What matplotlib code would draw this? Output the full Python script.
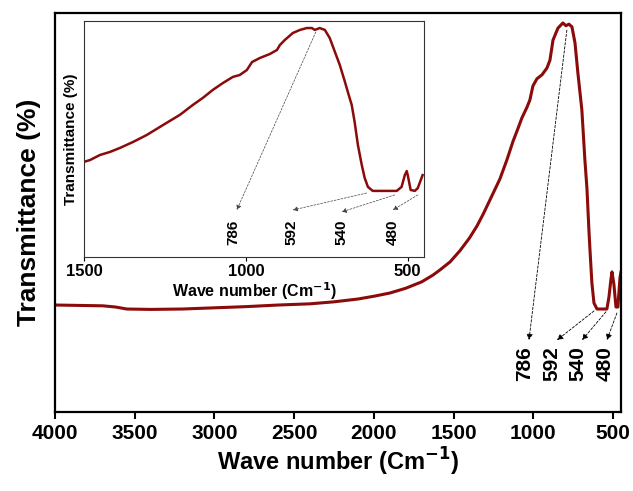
import numpy as np
import matplotlib
matplotlib.use('Agg')
import matplotlib.pyplot as plt

plt.rcParams['font.family'] = ['Liberation Sans', 'DejaVu Sans']
plt.rcParams['font.weight'] = 'bold'
plt.rcParams['mathtext.default'] = 'bf'

# Main FTIR spectrum (arbitrary units)
wn_main = [4000, 3850, 3700, 3620, 3550, 3400, 3200, 3000, 2800, 2600, 2400,
           2250, 2100, 2000, 1900, 1800, 1700, 1629, 1585, 1522, 1460, 1400,
           1353, 1315, 1272, 1209, 1165, 1127, 1100, 1071, 1039, 1021, 1002,
           977, 945, 914, 895, 876, 845, 814, 795, 776, 757, 738, 720, 695,
           676, 663, 650, 644, 632, 619, 600, 538, 525, 513, 506, 494, 481,
           469, 456, 450]
tr_main = [26.8, 26.7, 26.6, 26.3, 25.8, 25.7, 25.8, 26.1, 26.4, 26.8, 27.1,
           27.6, 28.3, 29.0, 29.8, 31.0, 32.6, 34.3, 35.6, 37.6, 40.4, 43.6,
           46.6, 49.5, 53.1, 58.4, 63.2, 67.8, 70.6, 73.7, 76.4, 78.2, 81.7,
           83.5, 84.5, 86.2, 88.2, 93.2, 96.2, 97.5, 96.8, 97.2, 96.5, 92.5, 85.0, 75.7,
           63.2, 56.0, 45.0, 40.6, 32.3, 27.3, 25.8, 25.8, 28.8, 33.1, 35.1, 32.0, 26.3,
           26.3, 33.6, 35.0]

# Inset spectrum (1500 - 450 region)
wn_ins = [1500, 1481, 1451, 1420, 1389, 1349, 1306, 1256, 1204, 1164, 1133,
          1102, 1071, 1040, 1019, 997, 981, 957, 926, 904, 895, 880, 855, 833,
          812, 796, 787, 772, 756, 741, 725, 710, 694, 685, 673, 664, 654, 642,
          633, 623, 608, 534, 519, 509, 503, 500, 491, 478, 469, 454]
tr_ins = [40.3, 41.1, 43.2, 44.5, 46.2, 48.7, 51.7, 55.9, 60.2, 64.4, 67.4,
          70.8, 73.7, 76.3, 77.1, 79.2, 82.6, 84.3, 86.0, 87.7, 89.8, 91.9, 94.9, 96.2,
          97.0, 97.0, 96.2, 97.0, 96.2, 92.8, 86.9, 81.4, 74.2, 69.9, 64.4, 57.2, 47.5, 39.0,
          33.5, 29.7, 28.0, 28.0, 29.7, 34.7, 36.4, 34.7, 28.4, 28.0, 29.2, 34.7]

peak_labels = ['786', '592', '540', '480']
# arrow tail (on curve), arrow head, label x
main_tail = [(789, 95.7), (619, 25.3), (544, 25.1), (475, 24.8)]
main_head = [(1027, 18.0), (851, 18.0), (694, 18.0), (538, 18.0)]
main_lab_x = [1052, 883, 720, 550]
ins_tail = [(784, 95.3), (627, 27.1), (540, 26.3), (469, 26.3)]
ins_head = [(1028, 19.9), (855, 19.9), (704, 19.1), (546, 19.9)]
ins_lab_x = [1040, 858, 704, 546]

line_color = '#8b0a0a'

fig = plt.figure(figsize=(6.33, 4.91), dpi=100)
ax = fig.add_axes([0.0869, 0.161, 0.894, 0.8126])
ax.plot(wn_main, tr_main, color=line_color, lw=2.2)
ax.set_xlim(4000, 450)
ax.set_ylim(0, 100)
ax.set_xticks([4000, 3500, 3000, 2500, 2000, 1500, 1000, 500])
ax.set_yticks([])
ax.tick_params(axis='x', direction='out', length=5, width=1.5, labelsize=15)
for s in ax.spines.values():
    s.set_linewidth(1.6)
ax.set_xlabel('Wave number (Cm$^{-1}$)', fontsize=17, fontweight='bold', labelpad=2)
ax.set_ylabel('Transmittance (%)', fontsize=19, fontweight='bold', labelpad=10)

for lab, t, h, lx in zip(peak_labels, main_tail, main_head, main_lab_x):
    ax.annotate('', xy=h, xytext=t,
                arrowprops=dict(arrowstyle='-|>', color='black', lw=0.6,
                                linestyle=(0, (3, 2)), mutation_scale=9,
                                shrinkA=0, shrinkB=0))
    ax.text(lx, 7.8, lab, rotation=90, ha='center', va='bottom',
            fontsize=15, fontweight='bold')

# Inset
ins = fig.add_axes([0.1327, 0.4766, 0.537, 0.4807])
ins.plot(wn_ins, tr_ins, color=line_color, lw=1.8)
ins.set_xlim(1500, 450)
ins.set_ylim(0, 100)
ins.set_xticks([1500, 1000, 500])
ins.set_yticks([])
ins.tick_params(axis='x', direction='out', length=3, width=0.8, labelsize=12, pad=2)
for s in ins.spines.values():
    s.set_linewidth(0.8)
    s.set_color('#333333')
ins.set_xlabel('Wave number (Cm$^{-1}$)', fontsize=11.5, fontweight='bold', labelpad=1)
ins.set_ylabel('Transmittance (%)', fontsize=11, fontweight='bold', labelpad=4)

for lab, t, h, lx in zip(peak_labels, ins_tail, ins_head, ins_lab_x):
    ins.annotate('', xy=h, xytext=t,
                 arrowprops=dict(arrowstyle='-|>', color='#444444', lw=0.5,
                                 linestyle=(0, (3, 2)), mutation_scale=7,
                                 shrinkA=0, shrinkB=0))
    ins.text(lx, 5.1, lab, rotation=90, ha='center', va='bottom',
             fontsize=11, fontweight='bold')

fig.savefig('out.png', dpi=100, facecolor='white')
